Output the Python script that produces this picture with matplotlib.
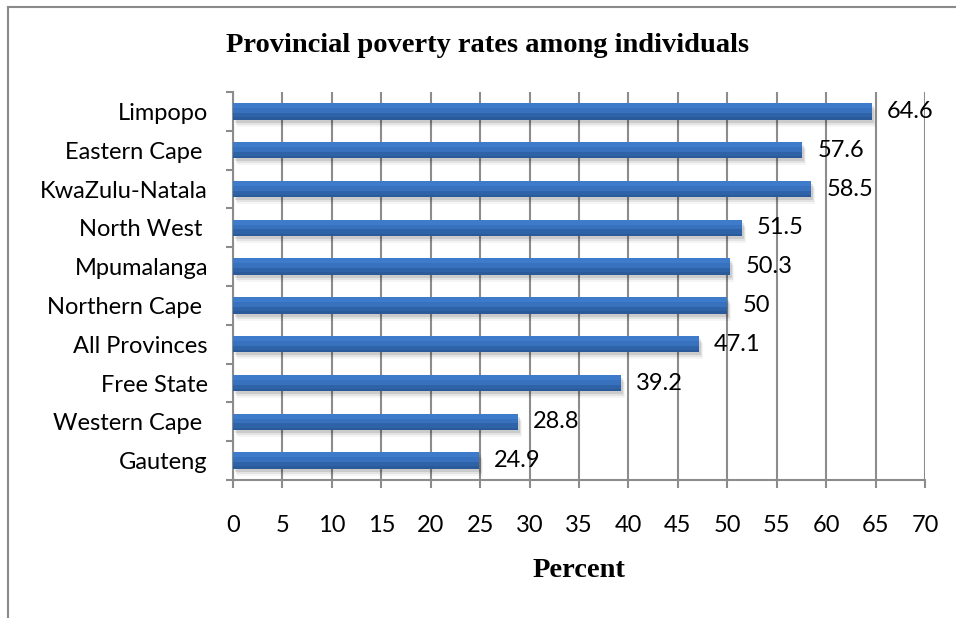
import numpy as np
import matplotlib
matplotlib.use("Agg")
import matplotlib.pyplot as plt
import matplotlib.transforms as mtransforms

provinces = ["Limpopo", "Eastern Cape ", "KwaZulu-Natala", "North West ", "Mpumalanga",
             "Northern Cape ", "All Provinces", "Free State", "Western Cape ", "Gauteng"]
rates = [64.6, 57.6, 58.5, 51.5, 50.3, 50, 47.1, 39.2, 28.8, 24.9]
x_ticks = list(range(0, 75, 5))

label_font = "Lato"
title_font = "Liberation Serif"
grid_col = "#8c8c8c"

fig = plt.figure(figsize=(9.56, 6.18), dpi=100)
ax = fig.add_axes([0.2437, 0.2233, 0.7239, 0.6278])

# outer frame (only top and left visible in the reference crop)
fig.add_artist(plt.Line2D([8/956, 8/956], [0, 1 - 7/618], color="#8a8a8a", lw=1.5))
fig.add_artist(plt.Line2D([8/956, 1], [1 - 7/618, 1 - 7/618], color="#8a8a8a", lw=1.5))

y = np.arange(len(provinces))
bh = 0.42

# soft shadow under each bar
for dx, dy, a in [(2, -3, 0.10), (3, -5, 0.07), (4, -7, 0.04)]:
    off = mtransforms.offset_copy(ax.transData, fig=fig, x=dx, y=dy, units="dots")
    ax.barh(y, rates, height=bh, color="black", alpha=a, transform=off, zorder=2, lw=0)

# bar body, a lighter top band and a darker bottom band (y axis is inverted)
ax.barh(y, rates, height=bh, color="#3872BE", zorder=3, lw=0)
ax.barh(y - bh * 0.35, rates, height=bh * 0.3, color="#3E7CCB", zorder=4, lw=0)
ax.barh(y + bh * 0.3, rates, height=bh * 0.4, color="#2F63A8", zorder=4, lw=0)
ax.barh(y + bh * 0.43, rates, height=bh * 0.14, color="#2A5A99", zorder=4, lw=0)

for yi, v in zip(y, rates):
    ax.annotate(f"{v:g}", (v, yi), xytext=(15, 0), textcoords="offset pixels",
                va="center", ha="left", fontsize=17, family=label_font, color="black", zorder=5)

ax.set_xlim(0, 70)
ax.set_ylim(len(provinces) - 0.5, -0.5)
ax.set_xticks(x_ticks)
ax.set_xticklabels([str(t) for t in x_ticks], family=label_font, fontsize=17)
ax.set_yticks(y)
ax.set_yticklabels(provinces, family=label_font, fontsize=17)
ax.set_yticks(np.arange(-0.5, len(provinces), 1), minor=True)

ax.tick_params(axis="x", which="major", length=6, width=1.5, color=grid_col, pad=19)
ax.tick_params(axis="y", which="major", length=0, pad=18)
ax.tick_params(axis="y", which="minor", length=5, width=1.5, color=grid_col)

ax.grid(axis="x", color=grid_col, lw=1.5, zorder=1)
ax.set_axisbelow(True)
for s in ["top", "right"]:
    ax.spines[s].set_visible(False)
ax.spines["bottom"].set_color(grid_col)
ax.spines["bottom"].set_linewidth(1.5)
ax.spines["left"].set_color(grid_col)
ax.spines["left"].set_linewidth(1.5)

ax.set_xlabel("Percent", family=title_font, fontweight="bold", fontsize=20.5, labelpad=16)
fig.text(488/956, 1 - 45/618, "Provincial poverty rates among individuals",
         family=title_font, fontweight="bold", fontsize=20.5, ha="center", va="center")

fig.savefig("out.png", dpi=100)
